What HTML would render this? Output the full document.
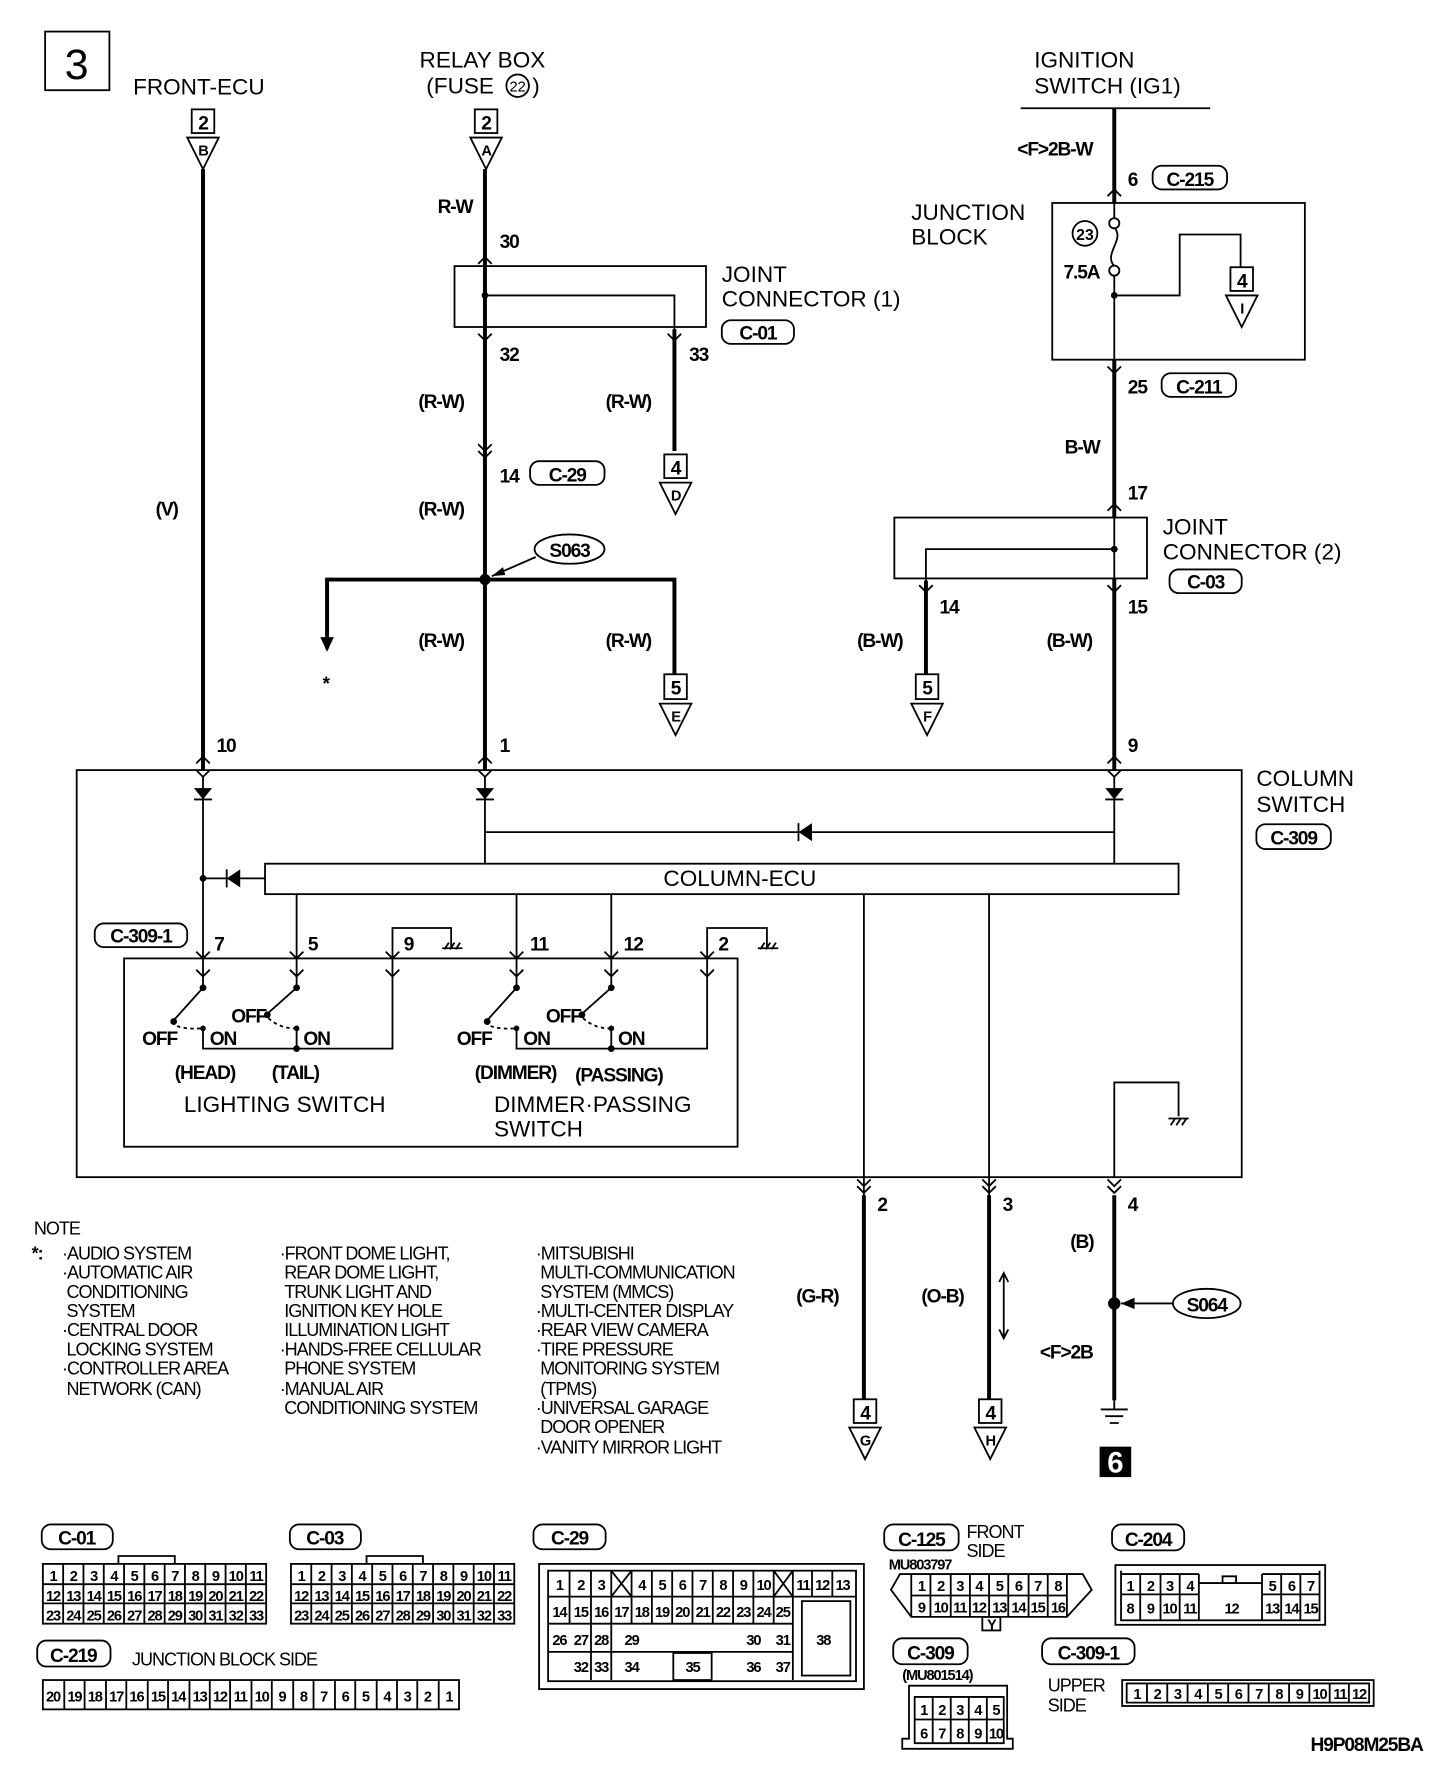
<!DOCTYPE html>
<html><head><meta charset="utf-8"><style>
html,body{margin:0;padding:0;background:#fff}
svg{display:block}
text{font-family:"Liberation Sans",sans-serif;fill:#000}
.t{font-size:20px}
.n{font-size:16px;letter-spacing:-0.9px}
.b{font-size:17px;font-weight:bold;letter-spacing:-1px}
.s{font-size:13px;font-weight:bold;letter-spacing:-1px}
.w{stroke:#000;stroke-width:3.5;fill:none}
.l{stroke:#000;stroke-width:1.6;fill:none}
.f{fill:#000}
</style></head><body>
<svg width="1456" height="1768" viewBox="0 0 1291 1568" preserveAspectRatio="none" xmlns="http://www.w3.org/2000/svg">
<!-- header -->
<rect x="40" y="28" width="57" height="52" class="l" stroke-width="2.5"/>
<text x="68" y="70" font-size="38" text-anchor="middle">3</text>
<text x="118" y="84" class="t">FRONT-ECU</text>
<text x="372" y="60" class="t">RELAY BOX</text>
<text x="378" y="83" class="t">(FUSE</text><circle cx="459" cy="76" r="10" class="l"/><text x="459" y="81" font-size="13" text-anchor="middle">22</text><text x="472" y="83" class="t">)</text>
<text x="917" y="60" class="t">IGNITION</text>
<text x="917" y="83" class="t">SWITCH (IG1)</text>
<line x1="905" y1="96" x2="1073" y2="96" class="l" stroke-width="2.5"/>

<!-- left wire -->
<rect x="170" y="97" width="20" height="21" class="l"/><text x="180" y="115" class="b" text-anchor="middle">2</text>
<path d="M166 122 L194 122 L180 150 Z" class="l"/><text x="180" y="138" class="s" text-anchor="middle">B</text>
<line x1="180" y1="150" x2="180" y2="683" class="w"/>
<text x="138" y="457" class="b">(V)</text>
<text x="192" y="667" class="b">10</text>

<!-- relay wire -->
<rect x="421" y="97" width="20" height="21" class="l"/><text x="431" y="115" class="b" text-anchor="middle">2</text>
<path d="M417 122 L445 122 L431 150 Z" class="l"/><text x="431" y="138" class="s" text-anchor="middle">A</text>
<line x1="430" y1="150" x2="430" y2="683" class="w"/>
<text x="388" y="189" class="b">R-W</text>
<text x="443" y="220" class="b">30</text>
<path d="M424 234 L430 228 L436 234" class="l"/>
<rect x="403" y="236" width="223" height="54" class="l"/>
<circle cx="430" cy="262" r="3" class="f"/>
<path d="M430 262 H598 V400" class="l"/>
<line x1="598" y1="292" x2="598" y2="400" class="w"/>
<path d="M424 296 L430 302 L436 296 M592 296 L598 302 L604 296" class="l"/>
<text x="443" y="320" class="b">32</text><text x="611" y="320" class="b">33</text>
<text x="640" y="250" class="t">JOINT</text><text x="640" y="272" class="t">CONNECTOR (1)</text>
<rect x="640" y="284" width="64" height="21" rx="8" class="l"/><text x="672" y="301" class="b" text-anchor="middle">C-01</text>
<text x="371" y="362" class="b">(R-W)</text><text x="537" y="362" class="b">(R-W)</text>
<rect x="589" y="403" width="20" height="21" class="l"/><text x="599" y="421" class="b" text-anchor="middle">4</text>
<path d="M585 428 L613 428 L599 456 Z" class="l"/><text x="599" y="444" class="s" text-anchor="middle">D</text>
<path d="M424 394 L430 400 L436 394 M424 400 L430 406 L436 400" class="l"/>
<text x="443" y="428" class="b">14</text>
<rect x="470" y="409" width="66" height="21" rx="8" class="l"/><text x="503" y="427" class="b" text-anchor="middle">C-29</text>
<text x="371" y="457" class="b">(R-W)</text>
<!-- S063 -->
<circle cx="430" cy="514" r="5" class="f"/>
<path d="M290 575 V514 H598 V598" class="w"/>
<path d="M284 565 L290 578 L296 565 Z" class="f"/>
<text x="286" y="612" class="b">*</text>
<ellipse cx="505" cy="487" rx="31" ry="13" class="l"/><text x="505" y="494" class="b" text-anchor="middle">S063</text>
<path d="M475 494 L436 511" class="l"/><path d="M436 511 L446 503 L448 510 Z" class="f"/>
<text x="371" y="574" class="b">(R-W)</text><text x="537" y="574" class="b">(R-W)</text>
<rect x="589" y="598" width="20" height="22" class="l"/><text x="599" y="616" class="b" text-anchor="middle">5</text>
<path d="M585 624 L613 624 L599 652 Z" class="l"/><text x="599" y="640" class="s" text-anchor="middle">E</text>
<text x="443" y="667" class="b">1</text>

<!-- right side -->
<line x1="988" y1="96" x2="988" y2="180" class="w"/>
<line x1="988" y1="319" x2="988" y2="459" class="w"/>
<line x1="988" y1="513" x2="988" y2="683" class="w"/>
<text x="902" y="138" class="b">&lt;F&gt;2B-W</text>
<text x="1000" y="165" class="b">6</text>
<rect x="1022" y="147" width="66" height="21" rx="8" class="l"/><text x="1055" y="165" class="b" text-anchor="middle">C-215</text>
<path d="M982 174 L988 168 L994 174" class="l"/>
<text x="808" y="195" class="t">JUNCTION</text><text x="808" y="217" class="t">BLOCK</text>
<rect x="933" y="180" width="224" height="139" class="l"/>
<line x1="988" y1="180" x2="988" y2="193" class="l"/>
<circle cx="988" cy="198" r="4.5" class="l"/>
<path d="M988 202 C998 212 978 225 988 236" class="l"/>
<circle cx="988" cy="240" r="4.5" class="l"/>
<line x1="988" y1="245" x2="988" y2="319" class="l"/>
<circle cx="962" cy="207" r="11" class="l"/><text x="962" y="213" font-size="14" font-weight="bold" text-anchor="middle">23</text>
<text x="943" y="247" class="b">7.5A</text>
<circle cx="988" cy="262" r="3" class="f"/>
<path d="M988 262 H1046 V208 H1100 V237" class="l"/>
<rect x="1091" y="237" width="20" height="21" class="l"/><text x="1101" y="255" class="b" text-anchor="middle">4</text>
<path d="M1087 262 L1115 262 L1101 290 Z" class="l"/><text x="1101" y="278" class="s" text-anchor="middle">I</text>
<path d="M982 325 L988 331 L994 325" class="l"/>
<text x="1000" y="349" class="b">25</text>
<rect x="1030" y="331" width="66" height="21" rx="8" class="l"/><text x="1063" y="349" class="b" text-anchor="middle">C-211</text>
<text x="944" y="402" class="b">B-W</text>
<text x="1000" y="443" class="b">17</text>
<path d="M982 453 L988 447 L994 453" class="l"/>
<rect x="793" y="459" width="224" height="54" class="l"/>
<line x1="988" y1="459" x2="988" y2="513" class="l"/>
<circle cx="988" cy="487" r="3" class="f"/>
<path d="M988 487 H821 V598" class="l"/>
<line x1="821" y1="515" x2="821" y2="598" class="w"/>
<path d="M815 519 L821 525 L827 519 M982 519 L988 525 L994 519" class="l"/>
<text x="833" y="544" class="b">14</text><text x="1000" y="544" class="b">15</text>
<text x="1031" y="474" class="t">JOINT</text><text x="1031" y="496" class="t">CONNECTOR (2)</text>
<rect x="1037" y="505" width="64" height="21" rx="8" class="l"/><text x="1069" y="522" class="b" text-anchor="middle">C-03</text>
<text x="760" y="574" class="b">(B-W)</text><text x="928" y="574" class="b">(B-W)</text>
<rect x="812" y="598" width="20" height="22" class="l"/><text x="822" y="616" class="b" text-anchor="middle">5</text>
<path d="M808 624 L836 624 L822 652 Z" class="l"/><text x="822" y="640" class="s" text-anchor="middle">F</text>
<text x="1000" y="667" class="b">9</text>

<!-- column switch -->
<rect x="68" y="683" width="1033" height="361" class="l"/>
<text x="1114" y="697" class="t">COLUMN</text><text x="1114" y="720" class="t">SWITCH</text>
<rect x="1114" y="731" width="66" height="22" rx="8" class="l"/><text x="1147" y="749" class="b" text-anchor="middle">C-309</text>
<path d="M174 677 L180 671 L186 677 M174 683 L180 689 L186 683 M424 677 L430 671 L436 677 M424 683 L430 689 L436 683 M982 677 L988 671 L994 677 M982 683 L988 689 L994 683" class="l"/>
<path d="M172 699 H188 L180 709 Z M422 699 H438 L430 709 Z M980 699 H996 L988 709 Z" class="f"/>
<path d="M172 709 H188 M422 709 H438 M980 709 H996" class="l"/>
<line x1="180" y1="689" x2="180" y2="850" class="l"/>
<line x1="430" y1="689" x2="430" y2="766" class="l"/>
<line x1="988" y1="689" x2="988" y2="766" class="l"/>
<line x1="430" y1="738" x2="988" y2="738" class="l"/>
<path d="M720 730 V746 L708 738 Z" class="f"/><line x1="708" y1="730" x2="708" y2="746" class="l"/>
<rect x="235" y="766" width="810" height="27" class="l"/>
<text x="656" y="786" class="t" text-anchor="middle">COLUMN-ECU</text>
<line x1="180" y1="779" x2="235" y2="779" class="l"/>
<circle cx="180" cy="779" r="3" class="f"/>
<path d="M213 771 V787 L201 779 Z" class="f"/><line x1="201" y1="771" x2="201" y2="787" class="l"/>
<rect x="84" y="819" width="82" height="21" rx="8" class="l"/><text x="125" y="836" class="b" text-anchor="middle">C-309-1</text>
<path d="M263 793 V850 M458 793 V850 M542 793 V850 M766 793 V1240 M877 793 V1240" class="l"/>
<path d="M348 850 V823 H400 V840 M627 850 V823 H680 V840" class="l"/>
<path d="M394 842 L398 836 M399 842 L403 836 M404 842 L408 836 M674 842 L678 836 M679 842 L683 836 M684 842 L688 836 M392 841 H410 M672 841 H690" class="l" stroke-width="1.2"/>
<text x="190" y="843" class="b">7</text><text x="273" y="843" class="b">5</text><text x="358" y="843" class="b">9</text>
<text x="470" y="843" class="b">11</text><text x="553" y="843" class="b">12</text><text x="637" y="843" class="b">2</text>
<rect x="110" y="850" width="544" height="167" class="l"/>
<path d="M174 844 L180 850 L186 844 M257 844 L263 850 L269 844 M342 844 L348 850 L354 844 M452 844 L458 850 L464 844 M536 844 L542 850 L548 844 M621 844 L627 850 L633 844" class="l"/>
<path d="M174 860 L180 866 L186 860 M257 860 L263 866 L269 860 M342 860 L348 866 L354 860 M452 860 L458 866 L464 860 M536 860 L542 866 L548 860 M621 860 L627 866 L633 860" class="l"/>
<path d="M180 850 V876 M263 850 V876 M348 850 V930 H180 V912 M458 850 V876 M542 850 V876 M627 850 V930 H458 V912 M263 912 V930 M542 912 V930" class="l"/>
<g class="l">
<path d="M180 876 L153 906 M263 876 L236 900 M458 876 L431 906 M542 876 L515 900"/>
<path d="M157 910 Q165 913 178 912 M238 903 Q248 912 261 912 M435 910 Q443 913 456 912 M517 903 Q527 912 540 912" stroke-dasharray="3,3"/>
</g>
<g class="f"><circle cx="180" cy="876" r="3"/><circle cx="263" cy="876" r="3"/><circle cx="458" cy="876" r="3"/><circle cx="542" cy="876" r="3"/>
<circle cx="154" cy="906" r="3"/><circle cx="237" cy="900" r="3"/><circle cx="432" cy="906" r="3"/><circle cx="516" cy="900" r="3"/>
<circle cx="180" cy="912" r="2.5"/><circle cx="263" cy="912" r="2.5"/><circle cx="458" cy="912" r="2.5"/><circle cx="542" cy="912" r="2.5"/>
<circle cx="263" cy="930" r="3"/><circle cx="542" cy="930" r="3"/></g>
<text x="126" y="927" class="b">OFF</text><text x="186" y="927" class="b">ON</text>
<text x="205" y="907" class="b">OFF</text><text x="269" y="927" class="b">ON</text>
<text x="405" y="927" class="b">OFF</text><text x="464" y="927" class="b">ON</text>
<text x="484" y="907" class="b">OFF</text><text x="548" y="927" class="b">ON</text>
<text x="155" y="957" class="b">(HEAD)</text><text x="241" y="957" class="b">(TAIL)</text>
<text x="421" y="957" class="b">(DIMMER)</text><text x="510" y="959" class="b">(PASSING)</text>
<text x="163" y="986" class="t">LIGHTING SWITCH</text>
<text x="438" y="986" class="t">DIMMER·PASSING</text><text x="438" y="1008" class="t">SWITCH</text>
<path d="M988 1044 V960 H1045 V990" class="l"/>
<path d="M1036 992 H1054 M1038 998 L1042 992 M1043 998 L1047 992 M1048 998 L1052 992" class="l" stroke-width="1.2"/>

<!-- outputs -->
<path d="M760 1046 L766 1052 L772 1046 M871 1046 L877 1052 L883 1046 M982 1046 L988 1052 L994 1046 M760 1052 L766 1058 L772 1052 M871 1052 L877 1058 L883 1052 M982 1052 L988 1058 L994 1052" class="l"/>
<line x1="766" y1="1060" x2="766" y2="1241" class="w"/>
<line x1="877" y1="1060" x2="877" y2="1241" class="w"/>
<line x1="988" y1="1060" x2="988" y2="1242" class="w"/>
<text x="778" y="1074" class="b">2</text><text x="889" y="1074" class="b">3</text><text x="1000" y="1074" class="b">4</text>
<text x="706" y="1155" class="b">(G-R)</text><text x="817" y="1155" class="b">(O-B)</text>
<path d="M890 1130 V1186 M886 1137 L890 1129 L894 1137 M886 1179 L890 1187 L894 1179" class="l" stroke-width="1.2"/>
<text x="949" y="1107" class="b">(B)</text>
<circle cx="988" cy="1156" r="5.5" class="f"/>
<line x1="994" y1="1156" x2="1040" y2="1156" class="l"/><path d="M994 1156 L1006 1151 L1006 1161 Z" class="f"/>
<ellipse cx="1070" cy="1156" rx="30" ry="13" class="l"/><text x="1070" y="1163" class="b" text-anchor="middle">S064</text>
<text x="922" y="1205" class="b">&lt;F&gt;2B</text>
<path d="M976 1250 H1000 M980 1256 H996 M984 1262 H992" class="l" stroke-width="1.5"/>
<path d="M988 1242 V1250" class="l"/>
<rect x="975" y="1283" width="28" height="27" class="f"/>
<text x="989" y="1306" font-size="26" font-weight="bold" text-anchor="middle" fill="#fff" style="fill:#fff">6</text>
<rect x="757" y="1241" width="20" height="21" class="l"/><text x="767" y="1259" class="b" text-anchor="middle">4</text>
<path d="M753 1266 L781 1266 L767 1294 Z" class="l"/><text x="767" y="1282" class="s" text-anchor="middle">G</text>
<rect x="868" y="1241" width="20" height="21" class="l"/><text x="878" y="1259" class="b" text-anchor="middle">4</text>
<path d="M864 1266 L892 1266 L878 1294 Z" class="l"/><text x="878" y="1282" class="s" text-anchor="middle">H</text>

<!-- note -->
<g class="n">
<text x="30" y="1095">NOTE</text>
<text x="28" y="1117" font-weight="bold">*:</text>
<text x="55" y="1117">·AUDIO SYSTEM</text>
<text x="55" y="1134">·AUTOMATIC AIR</text>
<text x="59" y="1151">CONDITIONING</text>
<text x="59" y="1168">SYSTEM</text>
<text x="55" y="1185">·CENTRAL DOOR</text>
<text x="59" y="1202">LOCKING SYSTEM</text>
<text x="55" y="1219">·CONTROLLER AREA</text>
<text x="59" y="1237">NETWORK (CAN)</text>
<text x="248" y="1117">·FRONT DOME LIGHT,</text>
<text x="252" y="1134">REAR DOME LIGHT,</text>
<text x="252" y="1151">TRUNK LIGHT AND</text>
<text x="252" y="1168">IGNITION KEY HOLE</text>
<text x="252" y="1185">ILLUMINATION LIGHT</text>
<text x="248" y="1202">·HANDS-FREE CELLULAR</text>
<text x="252" y="1219">PHONE SYSTEM</text>
<text x="248" y="1237">·MANUAL AIR</text>
<text x="252" y="1254">CONDITIONING SYSTEM</text>
<text x="475" y="1117">·MITSUBISHI</text>
<text x="479" y="1134">MULTI-COMMUNICATION</text>
<text x="479" y="1151">SYSTEM (MMCS)</text>
<text x="475" y="1168">·MULTI-CENTER DISPLAY</text>
<text x="475" y="1185">·REAR VIEW CAMERA</text>
<text x="475" y="1202">·TIRE PRESSURE</text>
<text x="479" y="1219">MONITORING SYSTEM</text>
<text x="479" y="1237">(TPMS)</text>
<text x="475" y="1254">·UNIVERSAL GARAGE</text>
<text x="479" y="1271">DOOR OPENER</text>
<text x="475" y="1289">·VANITY MIRROR LIGHT</text>
</g>

<!-- C-01 -->
<rect x="37" y="1352" width="63" height="22" rx="8" class="l"/><text x="68" y="1370" class="b" text-anchor="middle">C-01</text>
<path d="M105 1387 V1380 H155 V1387" class="l"/>
<rect x="38" y="1387" width="198" height="53" class="l"/>
<path d="M56 1387V1440M74 1387V1440M92 1387V1440M110 1387V1440M128 1387V1440M146 1387V1440M164 1387V1440M182 1387V1440M200 1387V1440M218 1387V1440M38 1405H236M38 1422H236" class="l" stroke-width="1"/>
<g class="s" text-anchor="middle" font-size="14">
<text y="1402"><tspan x="47">1</tspan><tspan x="65">2</tspan><tspan x="83">3</tspan><tspan x="101">4</tspan><tspan x="119">5</tspan><tspan x="137">6</tspan><tspan x="155">7</tspan><tspan x="173">8</tspan><tspan x="191">9</tspan><tspan x="209">10</tspan><tspan x="227">11</tspan></text>
<text y="1420"><tspan x="47">12</tspan><tspan x="65">13</tspan><tspan x="83">14</tspan><tspan x="101">15</tspan><tspan x="119">16</tspan><tspan x="137">17</tspan><tspan x="155">18</tspan><tspan x="173">19</tspan><tspan x="191">20</tspan><tspan x="209">21</tspan><tspan x="227">22</tspan></text>
<text y="1437"><tspan x="47">23</tspan><tspan x="65">24</tspan><tspan x="83">25</tspan><tspan x="101">26</tspan><tspan x="119">27</tspan><tspan x="137">28</tspan><tspan x="155">29</tspan><tspan x="173">30</tspan><tspan x="191">31</tspan><tspan x="209">32</tspan><tspan x="227">33</tspan></text>
</g>
<!-- C-03 -->
<rect x="257" y="1352" width="63" height="22" rx="8" class="l"/><text x="288" y="1370" class="b" text-anchor="middle">C-03</text>
<path d="M325 1387 V1380 H375 V1387" class="l"/>
<rect x="258" y="1387" width="198" height="53" class="l"/>
<path d="M276 1387V1440M294 1387V1440M312 1387V1440M330 1387V1440M348 1387V1440M366 1387V1440M384 1387V1440M402 1387V1440M420 1387V1440M438 1387V1440M258 1405H456M258 1422H456" class="l" stroke-width="1"/>
<g class="s" text-anchor="middle" font-size="14">
<text y="1402"><tspan x="267">1</tspan><tspan x="285">2</tspan><tspan x="303">3</tspan><tspan x="321">4</tspan><tspan x="339">5</tspan><tspan x="357">6</tspan><tspan x="375">7</tspan><tspan x="393">8</tspan><tspan x="411">9</tspan><tspan x="429">10</tspan><tspan x="447">11</tspan></text>
<text y="1420"><tspan x="267">12</tspan><tspan x="285">13</tspan><tspan x="303">14</tspan><tspan x="321">15</tspan><tspan x="339">16</tspan><tspan x="357">17</tspan><tspan x="375">18</tspan><tspan x="393">19</tspan><tspan x="411">20</tspan><tspan x="429">21</tspan><tspan x="447">22</tspan></text>
<text y="1437"><tspan x="267">23</tspan><tspan x="285">24</tspan><tspan x="303">25</tspan><tspan x="321">26</tspan><tspan x="339">27</tspan><tspan x="357">28</tspan><tspan x="375">29</tspan><tspan x="393">30</tspan><tspan x="411">31</tspan><tspan x="429">32</tspan><tspan x="447">33</tspan></text>
</g>
<!-- C-219 -->
<rect x="33" y="1455" width="65" height="23" rx="8" class="l"/><text x="65" y="1474" class="b" text-anchor="middle" font-size="19">C-219</text>
<text x="117" y="1477" class="n">JUNCTION BLOCK SIDE</text>
<rect x="38" y="1490" width="369" height="26" class="l"/>
<path d="M57 1490V1516M75 1490V1516M94 1490V1516M112 1490V1516M131 1490V1516M149 1490V1516M168 1490V1516M186 1490V1516M204 1490V1516M223 1490V1516M241 1490V1516M260 1490V1516M278 1490V1516M297 1490V1516M315 1490V1516M334 1490V1516M352 1490V1516M370 1490V1516M389 1490V1516" class="l" stroke-width="1"/>
<g class="s" text-anchor="middle" font-size="14"><text y="1509"><tspan x="47">20</tspan><tspan x="66">19</tspan><tspan x="84">18</tspan><tspan x="103">17</tspan><tspan x="121">16</tspan><tspan x="140">15</tspan><tspan x="158">14</tspan><tspan x="177">13</tspan><tspan x="195">12</tspan><tspan x="213">11</tspan><tspan x="232">10</tspan><tspan x="250">9</tspan><tspan x="269">8</tspan><tspan x="287">7</tspan><tspan x="306">6</tspan><tspan x="324">5</tspan><tspan x="343">4</tspan><tspan x="361">3</tspan><tspan x="379">2</tspan><tspan x="398">1</tspan></text></g>
<!-- C-29 -->
<rect x="473" y="1352" width="64" height="22" rx="8" class="l"/><text x="505" y="1370" class="b" text-anchor="middle">C-29</text>
<rect x="478" y="1387" width="288" height="111" class="l"/>
<rect x="486" y="1393" width="273" height="98" class="l" stroke-width="1"/>
<path d="M505 1393V1440M524 1393V1490M542 1393V1490M560 1393V1418M578 1393V1440M596 1393V1440M614 1393V1440M632 1393V1440M650 1393V1440M668 1393V1440M686 1393V1440M703 1393V1490M720 1393V1416M738 1393V1416M486 1416H759M486 1440H703M486 1465H703M542 1393 L560 1416 M560 1393 L542 1416 M686 1393 L703 1416 M703 1393 L686 1416 M560 1416V1440" class="l" stroke-width="1"/>
<rect x="711" y="1420" width="43" height="66" class="l" stroke-width="1"/>
<rect x="597" y="1466" width="34" height="24" class="l" stroke-width="1"/>
<g class="s" text-anchor="middle" font-size="14">
<text y="1410"><tspan x="496">1</tspan><tspan x="515">2</tspan><tspan x="533">3</tspan><tspan x="569">4</tspan><tspan x="587">5</tspan><tspan x="605">6</tspan><tspan x="623">7</tspan><tspan x="641">8</tspan><tspan x="659">9</tspan><tspan x="677">10</tspan><tspan x="712">11</tspan><tspan x="729">12</tspan><tspan x="747">13</tspan></text>
<text y="1434"><tspan x="496">14</tspan><tspan x="515">15</tspan><tspan x="533">16</tspan><tspan x="551">17</tspan><tspan x="569">18</tspan><tspan x="587">19</tspan><tspan x="605">20</tspan><tspan x="623">21</tspan><tspan x="641">22</tspan><tspan x="659">23</tspan><tspan x="677">24</tspan><tspan x="694">25</tspan></text>
<text y="1459"><tspan x="496">26</tspan><tspan x="515">27</tspan><tspan x="533">28</tspan><tspan x="560">29</tspan><tspan x="668">30</tspan><tspan x="694">31</tspan><tspan x="730">38</tspan></text>
<text y="1483"><tspan x="515">32</tspan><tspan x="533">33</tspan><tspan x="560">34</tspan><tspan x="614">35</tspan><tspan x="668">36</tspan><tspan x="694">37</tspan></text>
</g>
<!-- C-125 -->
<rect x="784" y="1352" width="66" height="23" rx="8" class="l"/><text x="817" y="1371" class="b" text-anchor="middle">C-125</text>
<text x="857" y="1364" class="n">FRONT</text><text x="857" y="1381" class="n">SIDE</text>
<text x="788" y="1392" class="s" font-size="12">MU803797</text>
<path d="M798 1396 H960 L968 1410 L946 1434 H808 L790 1410 Z" class="l"/>
<path d="M808 1396V1434M946 1396V1434M825 1396V1434M843 1396V1434M860 1396V1434M877 1396V1434M894 1396V1434M912 1396V1434M929 1396V1434M808 1415H946" class="l" stroke-width="1"/>
<rect x="871" y="1434" width="16" height="12" class="l" stroke-width="1"/><text x="879" y="1445" class="s" font-size="10" text-anchor="middle">Y</text>
<g class="s" text-anchor="middle" font-size="14">
<text y="1411"><tspan x="817">1</tspan><tspan x="834">2</tspan><tspan x="851">3</tspan><tspan x="868">4</tspan><tspan x="886">5</tspan><tspan x="903">6</tspan><tspan x="920">7</tspan><tspan x="938">8</tspan></text>
<text y="1430"><tspan x="817">9</tspan><tspan x="834">10</tspan><tspan x="851">11</tspan><tspan x="868">12</tspan><tspan x="886">13</tspan><tspan x="903">14</tspan><tspan x="920">15</tspan><tspan x="938">16</tspan></text>
</g>
<!-- C-204 -->
<rect x="986" y="1352" width="64" height="23" rx="8" class="l"/><text x="1018" y="1371" class="b" text-anchor="middle">C-204</text>
<rect x="989" y="1388" width="186" height="53" class="l"/>
<path d="M994 1393V1437H1170V1393M1011 1396V1437M1029 1396V1437M1046 1396V1437M1063 1396V1437M1119 1396V1437M1136 1396V1437M1153 1396V1437M994 1396H1063M1119 1396H1170M994 1414H1063M1063 1404H1119M1119 1414H1170M1084 1404V1398H1096V1404" class="l" stroke-width="1"/>
<g class="s" text-anchor="middle" font-size="14">
<text y="1411"><tspan x="1002">1</tspan><tspan x="1020">2</tspan><tspan x="1037">3</tspan><tspan x="1055">4</tspan><tspan x="1128">5</tspan><tspan x="1145">6</tspan><tspan x="1162">7</tspan></text>
<text y="1431"><tspan x="1002">8</tspan><tspan x="1020">9</tspan><tspan x="1037">10</tspan><tspan x="1055">11</tspan><tspan x="1092">12</tspan><tspan x="1128">13</tspan><tspan x="1145">14</tspan><tspan x="1162">15</tspan></text>
</g>
<!-- C-309 -->
<rect x="792" y="1453" width="66" height="23" rx="8" class="l"/><text x="825" y="1472" class="b" text-anchor="middle">C-309</text>
<text x="800" y="1490" class="s" font-size="12">(MU801514)</text>
<path d="M806 1495 H893 V1542 H898 V1551 H800 V1542 H806 Z" class="l"/>
<path d="M811 1505H890V1546H811ZM827 1505V1546M843 1505V1546M859 1505V1546M875 1505V1546M811 1525H890" class="l" stroke-width="1"/>
<g class="s" text-anchor="middle" font-size="14">
<text y="1521"><tspan x="819">1</tspan><tspan x="835">2</tspan><tspan x="851">3</tspan><tspan x="867">4</tspan><tspan x="883">5</tspan></text>
<text y="1542"><tspan x="819">6</tspan><tspan x="835">7</tspan><tspan x="851">8</tspan><tspan x="867">9</tspan><tspan x="883">10</tspan></text>
</g>
<!-- C-309-1 -->
<rect x="924" y="1453" width="82" height="23" rx="8" class="l"/><text x="965" y="1472" class="b" text-anchor="middle">C-309-1</text>
<text x="929" y="1500" class="n">UPPER</text><text x="929" y="1518" class="n">SIDE</text>
<rect x="995" y="1490" width="223" height="23" class="l"/>
<path d="M999 1493H1214V1510H999ZM1017 1493V1510M1035 1493V1510M1053 1493V1510M1071 1493V1510M1089 1493V1510M1107 1493V1510M1125 1493V1510M1143 1493V1510M1161 1493V1510M1179 1493V1510M1196 1493V1510" class="l" stroke-width="1"/>
<g class="s" text-anchor="middle" font-size="14"><text y="1507"><tspan x="1008">1</tspan><tspan x="1026">2</tspan><tspan x="1044">3</tspan><tspan x="1062">4</tspan><tspan x="1080">5</tspan><tspan x="1098">6</tspan><tspan x="1116">7</tspan><tspan x="1134">8</tspan><tspan x="1152">9</tspan><tspan x="1170">10</tspan><tspan x="1188">11</tspan><tspan x="1205">12</tspan></text></g>
<text x="1162" y="1553" class="b">H9P08M25BA</text>
</svg>
</body></html>
